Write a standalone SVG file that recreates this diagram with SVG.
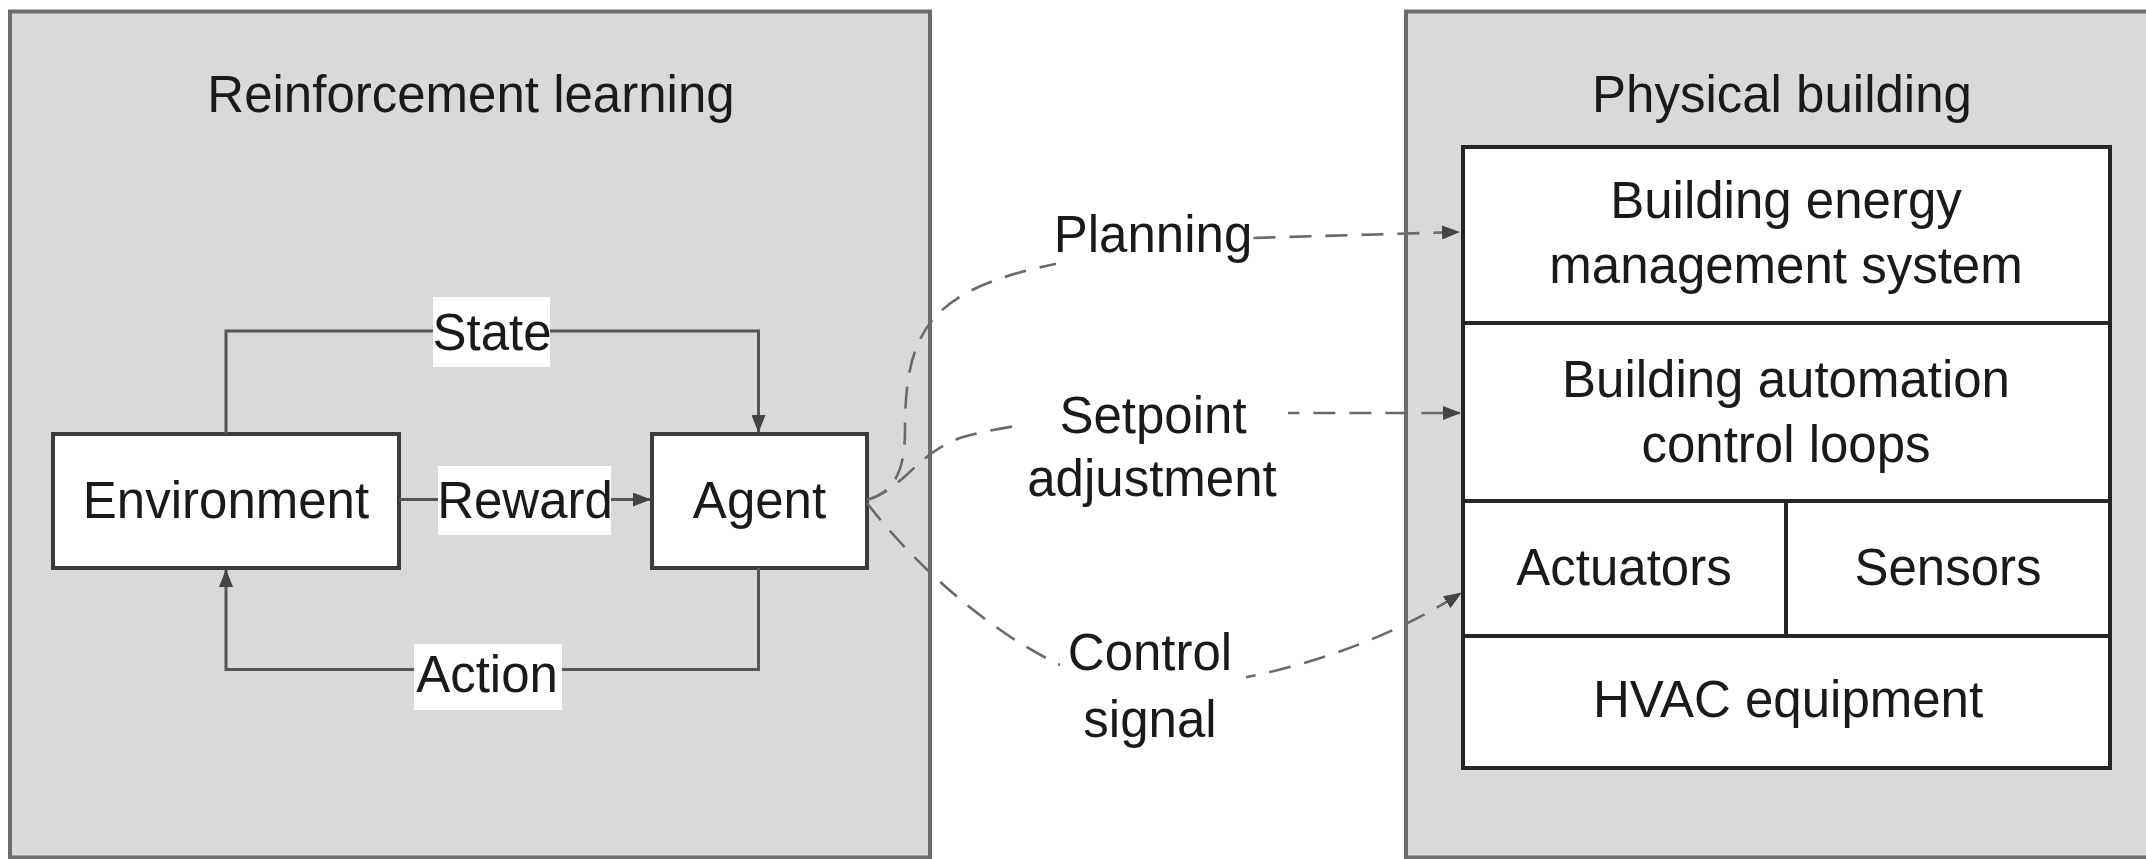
<svg xmlns="http://www.w3.org/2000/svg" width="2146" height="859" viewBox="0 0 2146 859">
<style>
  .panel { fill: #d9d9d9; stroke: #6d6d6d; stroke-width: 4; }
  .box { fill: #ffffff; stroke: #3c3c3c; stroke-width: 4; }
  .cell { fill: #ffffff; stroke: #262626; stroke-width: 4; }
  .t { font-family: "Liberation Sans", Arial, sans-serif; font-size: 51px; fill: #1a1a1a; text-anchor: middle; }
  .solid { fill: none; stroke: #555555; stroke-width: 3; }
  .dash { fill: none; stroke: #6a6a6a; stroke-width: 2.6; stroke-dasharray: 22 14; }
  .lbl { fill: #ffffff; }
</style>
<defs>
  <marker id="arr" markerUnits="userSpaceOnUse" markerWidth="18" markerHeight="14" refX="17" refY="7" orient="auto">
    <path d="M0,0 L18,7 L0,14 z" fill="#444444" stroke="none"/>
  </marker>
</defs>

<g id="panel-rl">
  <rect class="panel" x="10" y="11.5" width="920" height="846"/>
  <text class="t" x="471" y="112">Reinforcement learning</text>
</g>
<g id="panel-building">
  <rect class="panel" x="1406" y="11.5" width="770" height="846"/>
  <text class="t" x="1782" y="112">Physical building</text>
</g>

<g id="environment">
  <rect class="box" x="53" y="434" width="346" height="134"/>
  <text class="t" x="226" y="518">Environment</text>
</g>
<g id="agent">
  <rect class="box" x="652" y="434" width="215" height="134"/>
  <text class="t" x="759.5" y="518">Agent</text>
</g>

<g id="bems">
  <rect class="cell" x="1463" y="147" width="647" height="176"/>
  <text class="t" x="1786" y="218">Building energy</text>
  <text class="t" x="1786" y="283">management system</text>
</g>
<g id="bacl">
  <rect class="cell" x="1463" y="323" width="647" height="178"/>
  <text class="t" x="1786" y="397">Building automation</text>
  <text class="t" x="1786" y="462">control loops</text>
</g>
<g id="actuators">
  <rect class="cell" x="1463" y="501" width="323" height="135"/>
  <text class="t" x="1624" y="585">Actuators</text>
</g>
<g id="sensors">
  <rect class="cell" x="1786" y="501" width="324" height="135"/>
  <text class="t" x="1948" y="585">Sensors</text>
</g>
<g id="hvac">
  <rect class="cell" x="1463" y="636" width="647" height="132"/>
  <text class="t" x="1788" y="717">HVAC equipment</text>
</g>

<g id="connectors">
  <path class="solid" d="M226,434 V331 H758.5 V432" marker-end="url(#arr)"/>
  <path class="solid" d="M399,499.5 H650" marker-end="url(#arr)"/>
  <path class="solid" d="M758.5,568 V669.5 H226 V570" marker-end="url(#arr)"/>

  <rect class="lbl" x="433" y="297" width="117" height="70"/>
  <text class="t" x="492" y="350">State</text>
  <rect class="lbl" x="438" y="466" width="173" height="69"/>
  <text class="t" x="525" y="518">Reward</text>
  <rect class="lbl" x="414" y="644" width="148" height="66"/>
  <text class="t" x="487" y="692">Action</text>

  <path class="dash" d="M867,500 C895,492 905,470 905,430 C905,330 930,290 1055,264 C1120,250 1190,239 1252,238 L1459,232" marker-end="url(#arr)"/>
  <path class="dash" d="M867,500 C905,488 915,455 960,438 C1000,425 1100,413 1200,413 L1460,413" marker-end="url(#arr)"/>
  <path class="dash" d="M867,503 C930,585 1040,676 1130,686 C1200,694 1350,665 1461,593" marker-end="url(#arr)"/>

  <rect class="lbl" x="1056" y="205" width="194" height="62"/>
  <text class="t" x="1153" y="252">Planning</text>
  <rect class="lbl" x="1020" y="385" width="268" height="127"/>
  <text class="t" x="1153" y="433">Setpoint</text>
  <text class="t" x="1152" y="496">adjustment</text>
  <rect class="lbl" x="1060" y="625" width="186" height="130"/>
  <text class="t" x="1150" y="670">Control</text>
  <text class="t" x="1150" y="737">signal</text>
</g>
</svg>
